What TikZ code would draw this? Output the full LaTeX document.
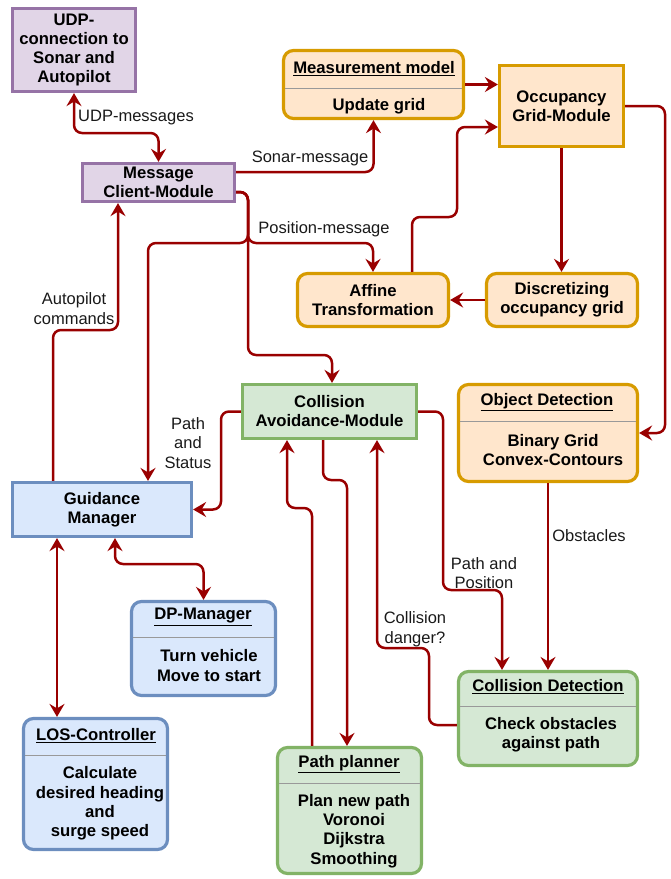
\documentclass[tikz,border=0pt]{standalone}
\usepackage{fontspec}
\setmainfont{Liberation Sans}
\usetikzlibrary{arrows.meta}
\definecolor{edgec}{HTML}{990000}
\definecolor{purpF}{HTML}{E1D5E7}\definecolor{purpD}{HTML}{9673A6}
\definecolor{oranF}{HTML}{FFE6CC}\definecolor{oranD}{HTML}{D79B00}
\definecolor{greeF}{HTML}{D5E8D4}\definecolor{greeD}{HTML}{82B366}
\definecolor{blueF}{HTML}{DAE8FC}\definecolor{blueD}{HTML}{6C8EBF}
\begin{document}
\begin{tikzpicture}[x=1pt,y=-1pt,
  box/.style={draw, line width=3.2pt, font=\fontsize{16.7}{19}\selectfont\bfseries, align=center, inner sep=0pt},
  rbox/.style={box, rounded corners=10pt},
  purp/.style={fill=purpF, draw=purpD},
  oran/.style={fill=oranF, draw=oranD},
  gree/.style={fill=greeF, draw=greeD},
  blue/.style={fill=blueF, draw=blueD},
  tip/.tip={Stealth[length=13pt,width=15pt,inset=4.5pt]},
  edge/.style={draw=edgec, line width=2.5pt, rounded corners=8pt, -tip},
  dedge/.style={draw=edgec, line width=2.5pt, rounded corners=8pt, tip-tip},
  lbl/.style={font=\fontsize{16.5}{19.5}\selectfont, align=center, inner sep=0pt, text=black!90},
  hdr/.style={font=\fontsize{16.7}{19}\selectfont\bfseries, inner sep=0pt},
  bodyt/.style={font=\fontsize{16.7}{19.3}\selectfont\bfseries, align=center, inner sep=0pt},
  sepl/.style={draw=black!40, line width=1pt, shorten <=3pt, shorten >=3pt}]
\useasboundingbox (0,0) rectangle (670,879);

% plain boxes
\node[box, purp, minimum width=123pt, minimum height=83pt] (udp) at (74,50) {UDP-\\connection to\\Sonar and\\Autopilot};
\node[box, purp, minimum width=152pt, minimum height=38pt] (msg) at (158.5,182.5) {Message\\Client-Module};
\node[box, oran, minimum width=124pt, minimum height=81pt] (occ) at (561.5,106) {Occupancy\\Grid-Module};
\node[rbox, oran, minimum width=151pt, minimum height=53pt] (aff) at (373,300) {Affine\\Transformation};
\node[rbox, oran, minimum width=151pt, minimum height=53pt] (disc) at (562,300) {Discretizing\\occupancy grid};
\node[box, gree, minimum width=174pt, minimum height=54pt] (cam) at (329.5,411.5) {Collision\\Avoidance-Module};
\node[box, blue, minimum width=179pt, minimum height=54pt] (gm) at (102,509.5) {Guidance\\Manager};

% compartment boxes
\node[rbox, oran, minimum width=180pt, minimum height=68pt] (meas) at (373.5,84.5) {};
\node[hdr] (measH) at (374,69) {\underline{Measurement model}};
\coordinate (measS) at (373.5,88);
\draw[sepl] (measS -| meas.west) -- (measS -| meas.east);
\node[bodyt] (measB) at (379,106) {Update grid};

\node[rbox, oran, minimum width=179pt, minimum height=97pt] (obj) at (548,433) {};
\node[hdr] (objH) at (547,402) {\underline{Object Detection}};
\coordinate (objS) at (548,421);
\draw[sepl] (objS -| obj.west) -- (objS -| obj.east);
\node[bodyt] (objB) at (553,450) {Binary Grid\\Convex-Contours};

\node[rbox, gree, minimum width=179pt, minimum height=94pt] (cd) at (548,718.5) {};
\node[hdr] (cdH) at (548,687) {\underline{Collision Detection}};
\coordinate (cdS) at (548,706);
\draw[sepl] (cdS -| cd.west) -- (cdS -| cd.east);
\node[bodyt] (cdB) at (551,735) {Check obstacles\\against path};

\node[rbox, blue, minimum width=144pt, minimum height=94pt] (dp) at (203.5,648.5) {};
\node[hdr] (dpH) at (203,617) {\underline{DP-Manager}};
\coordinate (dpS) at (203.5,637);
\draw[sepl] (dpS -| dp.west) -- (dpS -| dp.east);
\node[bodyt] (dpB) at (209,665.5) {Turn vehicle\\Move to start};

\node[rbox, blue, minimum width=144pt, minimum height=131pt] (los) at (95.5,784) {};
\node[hdr] (losH) at (96,736) {\underline{LOS-Controller}};
\coordinate (losS) at (95.5,755);
\draw[sepl] (losS -| los.west) -- (losS -| los.east);
\node[bodyt] (losB) at (100,803.5) {Calculate\\desired heading\\and\\surge speed};

\node[rbox, gree, minimum width=144pt, minimum height=126pt] (pp) at (349.5,810.5) {};
\node[hdr] (ppH) at (349,764) {\underline{Path planner}};
\coordinate (ppS) at (349.5,783);
\draw[sepl] (ppS -| pp.west) -- (ppS -| pp.east);
\node[bodyt] (ppB) at (354,831) {Plan new path\\Voronoi\\Dijkstra\\Smoothing};

% connectors
\draw[dedge] (udp.south) -- (74,133) -| (msg.north);
\draw[edge] ([yshift=10.5pt]msg.east) -| (meas.south);
\draw[edge] ([yshift=-9.5pt]msg.east) -- (248,192) -- (248,243) -- (148,243) -- ([xshift=46pt]gm.north);
\draw[edge] ([yshift=-9.5pt]msg.east) -- (248,192) -- (248,243) -- (373,243) -- (aff.north);
\draw[edge] ([yshift=-9.5pt]msg.east) -- (248,192) -- (248,355) -- (332,355) -- ([xshift=2.5pt]cam.north);
\draw[edge] (meas.east) -- (meas.east -| occ.west);
\draw[edge] ([xshift=39pt]aff.north) |- (457,217) |- ([yshift=-21pt]occ.west);
\draw[edge] (occ.south) -- (occ.south |- disc.north);
\draw[edge] (disc.west) -- (aff.east);
\draw[edge] (occ.east) -- (665,106) |- (obj.east);
\draw[edge] (obj.south) -- (cd.north);
\draw[edge] (cam.east) -| (443,590) -| ([xshift=-46pt]cd.north);
\draw[edge] ([yshift=-6.5pt]cd.west) -| (429,648) -| ([xshift=47.5pt]cam.south);
\draw[edge] (cam.west) -| (221,509.5) -- (gm.east);
\draw[edge] ([xshift=-49pt]gm.north) |- (118,330) -- ([xshift=-40.5pt]msg.south);
\draw[dedge] ([xshift=13pt]gm.south) |- (203.5,564) -- (dp.north);
\draw[dedge] ([xshift=-45pt]gm.south) -- ([xshift=-38.5pt]los.north);
\draw[edge] ([xshift=-37.5pt]pp.north) |- (287,508) -- ([xshift=-42.5pt]cam.south);
\draw[edge] ([xshift=-6.5pt]cam.south) |- (347,480) -- ([xshift=-2.5pt]pp.north);

% labels
\node[lbl] (l1) at (136,118) {UDP-messages};
\node[lbl] (l2) at (310,158) {Sonar-message};
\node[lbl] (l3) at (324,229) {Position-message};
\node[lbl] (l4) at (74,308.5) {Autopilot\\commands};
\node[lbl] (l5) at (188,443) {Path\\and\\Status};
\node[lbl] (l6) at (484,573) {Path and\\Position};
\node[lbl] (l7) at (589,536) {Obstacles};
\node[lbl] (l8) at (415,629) {Collision\\danger?};
\end{tikzpicture}
\end{document}
